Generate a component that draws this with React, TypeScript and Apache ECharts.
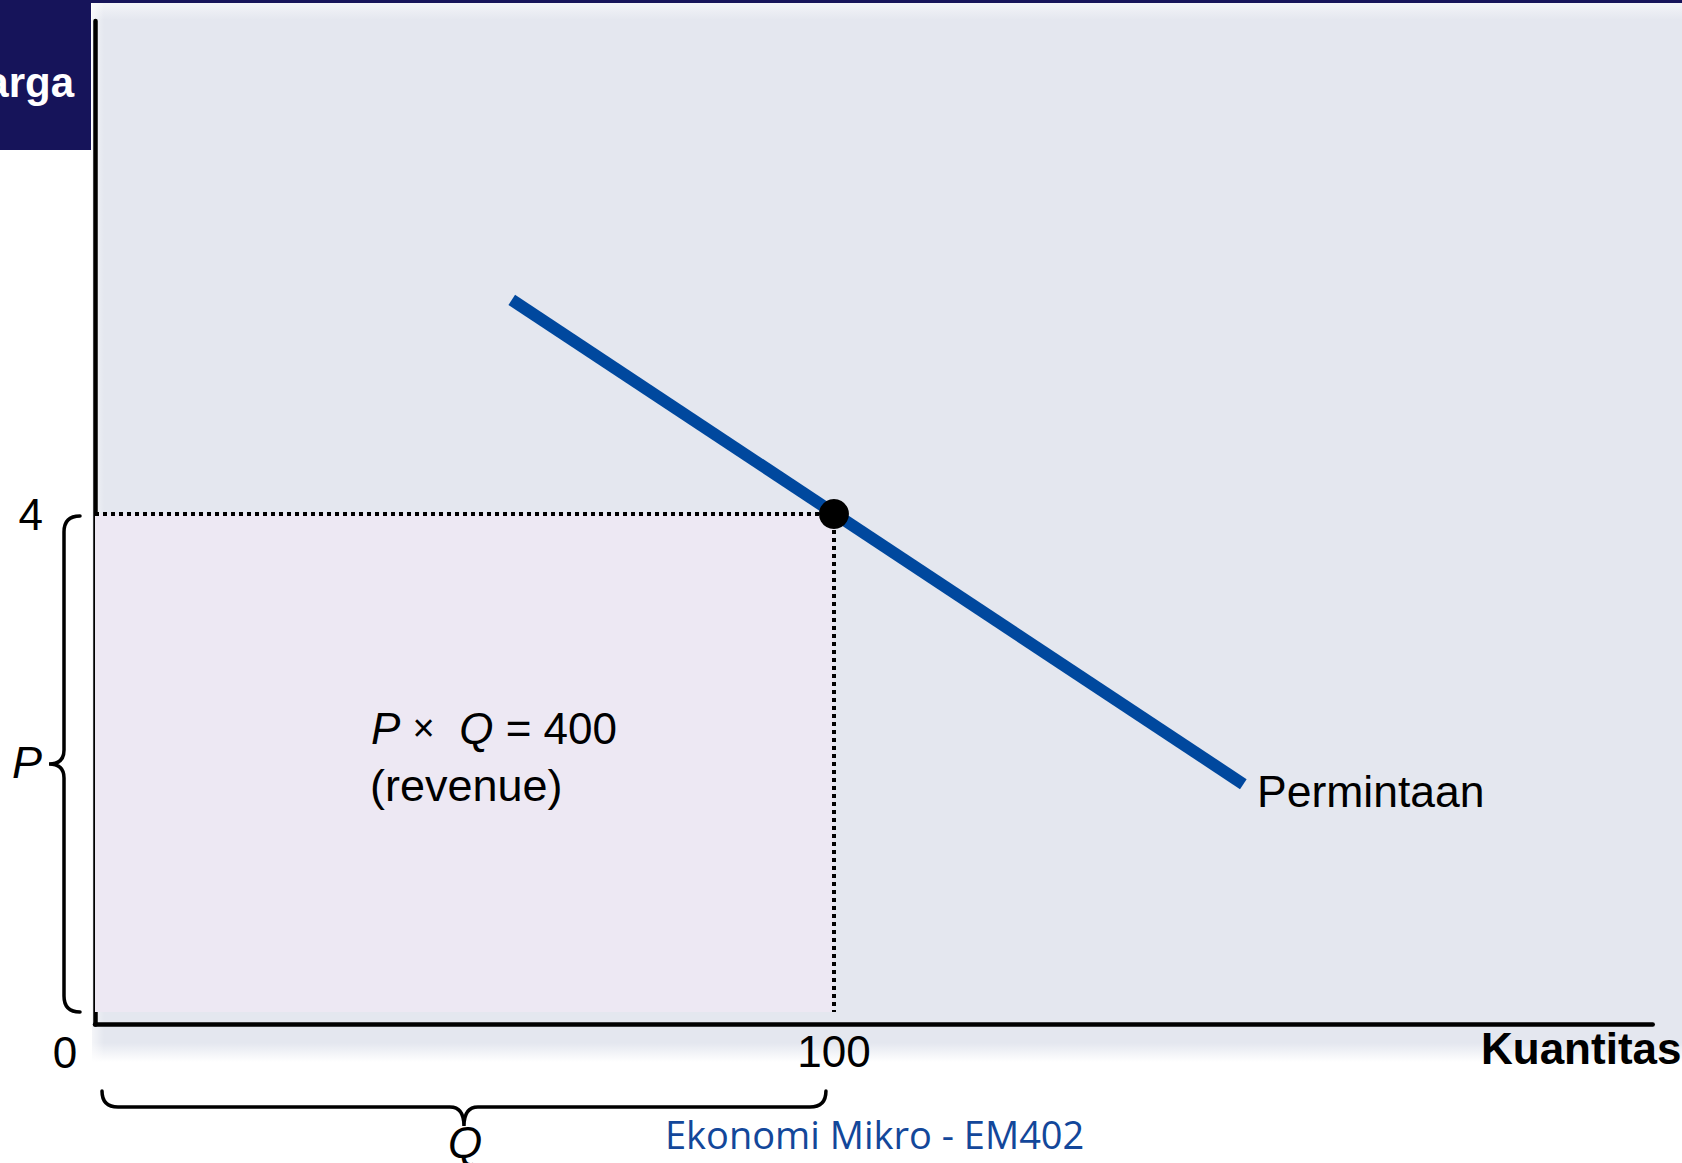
import React, { useEffect, useRef } from 'react';
import * as echarts from 'echarts';

// ---- data ----
const quantityTicks = [100];
const priceTicks = [4];
const demandCurve = [
  [56.4, 5.72],
  [155.4, 1.83],
];
const equilibriumPoint = [[100, 4]];
const revenueCorner = [100, 4];
const axisTitles = ['Harga', 'Kuantitas'];
const curveLabel = 'Permintaan';
const revenueLines = ['{i|P} {m|×}  {i|Q} = 400', '(revenue)'];
const braceLabels = ['P', 'Q'];
const originLabel = '0';
const footerText = 'Ekonomi Mikro - EM402';

const FONT = '"Liberation Sans", Arial, Helvetica, sans-serif';
const NAVY = '#16145a';
const BLUE = '#00489e';
const PLOT_BG = '#e4e7ef';
const REVENUE_BG = '#ede8f3';

function vBrace(xEnd: number, xSpine: number, xTip: number, y1: number, y2: number) {
  const ym = (y1 + y2) / 2;
  const r = xEnd - xSpine;
  const t = 14;
  return `M ${xEnd} ${y1} Q ${xSpine} ${y1} ${xSpine} ${y1 + r} L ${xSpine} ${ym - t} Q ${xSpine} ${ym} ${xTip} ${ym} Q ${xSpine} ${ym} ${xSpine} ${ym + t} L ${xSpine} ${y2 - r} Q ${xSpine} ${y2} ${xEnd} ${y2}`;
}

function hBrace(x1: number, x2: number, yEnd: number, ySpine: number, yTip: number) {
  const xm = (x1 + x2) / 2;
  const r = ySpine - yEnd;
  const t = 14;
  return `M ${x1} ${yEnd} Q ${x1} ${ySpine} ${x1 + r} ${ySpine} L ${xm - t} ${ySpine} Q ${xm} ${ySpine} ${xm} ${yTip} Q ${xm} ${ySpine} ${xm + t} ${ySpine} L ${x2 - r} ${ySpine} Q ${x2} ${ySpine} ${x2} ${yEnd}`;
}

export default function App() {
  const ref = useRef<HTMLDivElement>(null);

  useEffect(() => {
    if (!ref.current) return;
    const chart = echarts.init(ref.current, null, { renderer: 'svg' });

    const option: any = {
      animation: false,
      backgroundColor: '#ffffff',
      grid: {
        left: 95,
        top: 21,
        width: 1557.7,
        height: 1003.45,
        containLabel: false,
        outerBoundsMode: 'none',
      },
      xAxis: {
        type: 'value',
        min: 0,
        max: 210.8,
        axisLine: { show: true, onZero: false, lineStyle: { color: '#000', width: 4.5 } },
        axisTick: { show: false },
        splitLine: { show: false },
        axisLabel: {
          customValues: quantityTicks,
          color: '#000',
          fontFamily: FONT,
          fontSize: 44,
          margin: 5,
        },
      },
      yAxis: {
        type: 'value',
        min: -0.1,
        max: 7.96,
        axisLine: { show: true, onZero: false, lineStyle: { color: '#000', width: 4.5 } },
        axisTick: { show: false },
        splitLine: { show: false },
        axisLabel: {
          customValues: priceTicks,
          color: '#000',
          fontFamily: FONT,
          fontSize: 44,
          margin: 52,
        },
      },
      graphic: [
        {
          type: 'rect',
          z: -10,
          shape: { x: 92, y: 3, width: 1590, height: 1059 },
          style: {
            fill: new echarts.graphic.LinearGradient(0, 0, 0, 1, [
              { offset: 0, color: '#f3f4f8' },
              { offset: 0.016, color: PLOT_BG },
              { offset: 0.982, color: PLOT_BG },
              { offset: 1, color: '#ffffff' },
            ]),
          },
        },
        {
          type: 'rect',
          z: -9,
          shape: { x: 92, y: 3, width: 12, height: 1059 },
          style: {
            fill: new echarts.graphic.LinearGradient(0, 0, 1, 0, [
              { offset: 0, color: 'rgba(255,255,255,0.6)' },
              { offset: 1, color: 'rgba(255,255,255,0)' },
            ]),
          },
        },
        {
          type: 'rect',
          z: -8,
          shape: { x: 91, y: 0, width: 1591, height: 3 },
          style: { fill: NAVY },
        },
        {
          type: 'rect',
          z: 20,
          shape: { x: 0, y: 0, width: 91, height: 150 },
          style: { fill: NAVY },
        },
        {
          type: 'text',
          z: 21,
          x: 74,
          y: 82,
          style: {
            text: axisTitles[0],
            fill: '#ffffff',
            fontFamily: FONT,
            fontWeight: 'bold',
            fontSize: 42,
            align: 'right',
            verticalAlign: 'middle',
          },
        },
        {
          type: 'text',
          z: 21,
          x: 1481,
          y: 1048,
          style: {
            text: axisTitles[1],
            fill: '#000',
            fontFamily: FONT,
            fontWeight: 'bold',
            fontSize: 44,
            align: 'left',
            verticalAlign: 'middle',
          },
        },
        {
          type: 'text',
          z: 21,
          x: 65,
          y: 1052,
          style: {
            text: originLabel,
            fill: '#000',
            fontFamily: FONT,
            fontSize: 44,
            align: 'center',
            verticalAlign: 'middle',
          },
        },
        {
          type: 'text',
          z: 21,
          x: 1257,
          y: 791.5,
          style: {
            text: curveLabel,
            fill: '#000',
            fontFamily: FONT,
            fontSize: 44.5,
            align: 'left',
            verticalAlign: 'middle',
          },
        },
        {
          type: 'text',
          z: 21,
          x: 371,
          y: 728,
          style: {
            text: revenueLines[0],
            fill: '#000',
            fontFamily: FONT,
            fontSize: 44,
            align: 'left',
            verticalAlign: 'middle',
            rich: {
              i: { fontFamily: FONT, fontSize: 44, fontStyle: 'italic', fill: '#000' },
              m: { fontFamily: FONT, fontSize: 38, fill: '#000' },
            },
          },
        },
        {
          type: 'text',
          z: 21,
          x: 370,
          y: 785,
          style: {
            text: revenueLines[1],
            fill: '#000',
            fontFamily: FONT,
            fontSize: 45,
            align: 'left',
            verticalAlign: 'middle',
          },
        },
        {
          type: 'text',
          z: 21,
          x: 12,
          y: 762,
          style: {
            text: braceLabels[0],
            fill: '#000',
            fontFamily: FONT,
            fontStyle: 'italic',
            fontSize: 45,
            align: 'left',
            verticalAlign: 'middle',
          },
        },
        {
          type: 'text',
          z: 21,
          x: 448,
          y: 1142,
          style: {
            text: braceLabels[1],
            fill: '#000',
            fontFamily: FONT,
            fontStyle: 'italic',
            fontSize: 44,
            align: 'left',
            verticalAlign: 'middle',
          },
        },
        {
          type: 'text',
          z: 21,
          x: 665,
          y: 1134,
          style: {
            text: footerText,
            fill: '#13479a',
            fontFamily: '"Open Sans", "Noto Sans", sans-serif',
            fontSize: 38,
            align: 'left',
            verticalAlign: 'middle',
          },
        },
      ],
      series: [
        {
          name: curveLabel,
          type: 'line',
          data: demandCurve,
          showSymbol: false,
          symbol: 'none',
          z: 3,
          lineStyle: { color: BLUE, width: 12, cap: 'butt' },
          silent: true,
          markArea: {
            silent: true,
            z: 1,
            itemStyle: { color: REVENUE_BG },
            data: [[{ coord: [0, 0] }, { coord: revenueCorner }]],
          },
          markLine: {
            silent: true,
            z: 5,
            symbol: ['none', 'none'],
            label: { show: false },
            lineStyle: { color: '#000', width: 4, type: [4, 4] },
            data: [
              [{ coord: [0, revenueCorner[1]] }, { coord: revenueCorner }],
              [{ coord: revenueCorner }, { coord: [revenueCorner[0], 0] }],
            ],
          },
        },
        {
          name: 'Keseimbangan',
          type: 'scatter',
          data: equilibriumPoint,
          symbol: 'circle',
          symbolSize: 30,
          itemStyle: { color: '#000', opacity: 1 },
          z: 10,
          silent: true,
        },
        {
          name: 'Kurung',
          type: 'custom',
          data: [[0, 0]],
          z: 10,
          silent: true,
          clip: false,
          renderItem: (_params: any, api: any) => {
            const o = api.coord([0, 0]);
            const p = api.coord([0, priceTicks[0]]);
            const q = api.coord([quantityTicks[0], 0]);
            const left = vBrace(o[0] - 15, o[0] - 31, o[0] - 46, p[1] + 2, o[1]);
            const bottom = hBrace(o[0] + 7, q[0] - 8, o[1] + 79, o[1] + 95, o[1] + 114);
            const style = { fill: 'none', stroke: '#000', lineWidth: 3.5, lineCap: 'round' };
            return {
              type: 'group',
              children: [
                { type: 'path', shape: { pathData: left }, style },
                { type: 'path', shape: { pathData: bottom }, style },
              ],
            };
          },
        },
      ],
    };

    chart.setOption(option);
    return () => {
      chart.dispose();
    };
  }, []);

  return (
    <div
      ref={ref}
      style={{ position: 'fixed', left: 0, top: 0, width: 1682, height: 1163 }}
    />
  );
}
